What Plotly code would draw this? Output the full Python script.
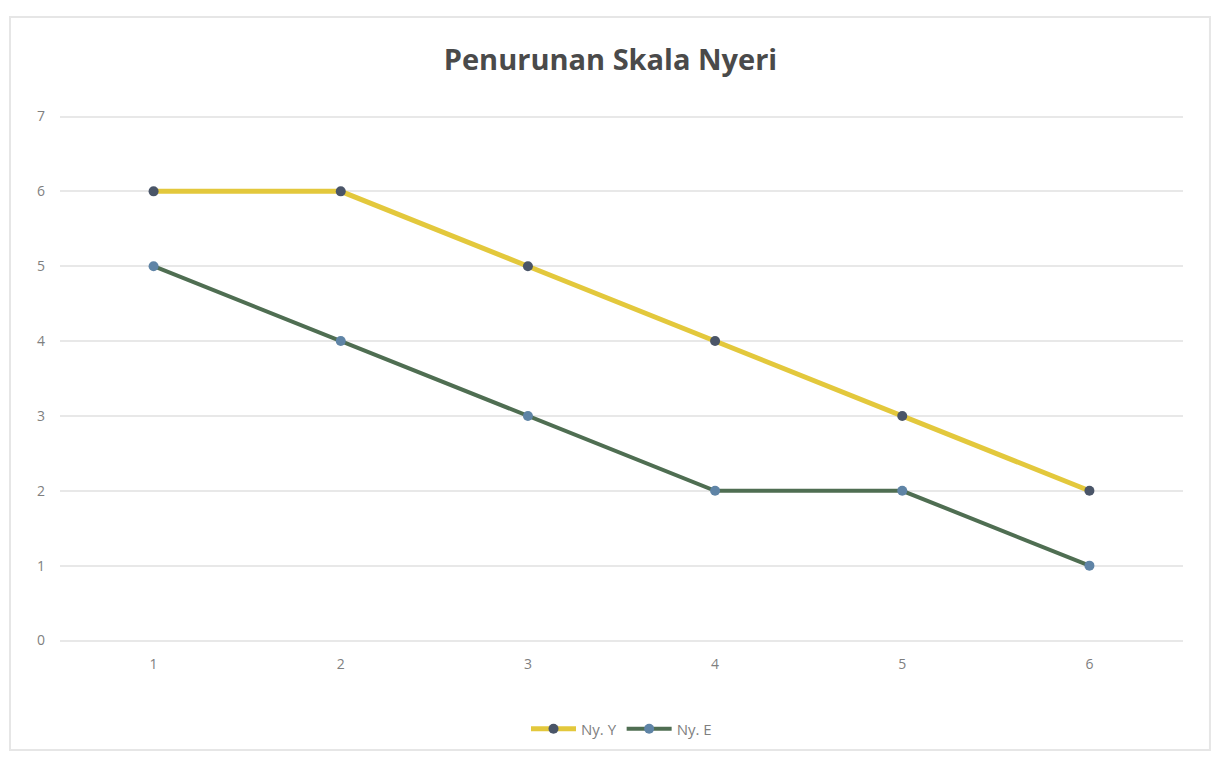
import plotly.graph_objects as go

# Pengukuran skala nyeri per hari
hari = [1, 2, 3, 4, 5, 6]
ny_y = [6, 6, 5, 4, 3, 2]
ny_e = [5, 4, 3, 2, 2, 1]
y_ticks = [0, 1, 2, 3, 4, 5, 6, 7]

fig = go.Figure()
fig.add_trace(go.Scatter(
    x=hari, y=ny_y, name="Ny. Y", mode="lines+markers",
    line=dict(color="#E3C83C", width=5),
    marker=dict(color="#4A5568", size=10, symbol="circle"),
))
fig.add_trace(go.Scatter(
    x=hari, y=ny_e, name="Ny. E", mode="lines+markers",
    line=dict(color="#4F6E52", width=4),
    marker=dict(color="#5F84A6", size=10, symbol="circle"),
))

# outer chart frame
fig.add_shape(type="rect", xref="paper", yref="paper",
              x0=-0.0445, x1=1.024, y0=-0.205, y1=1.186,
              line=dict(color="#E6E6E6", width=2), layer="below")

fig.update_layout(
    width=1221, height=758,
    margin=dict(l=60, r=38, t=115, b=114),
    paper_bgcolor="white", plot_bgcolor="white",
    title=dict(text="<b>Penurunan Skala Nyeri</b>", x=0.5, xanchor="center",
               y=0.921, yanchor="middle",
               font=dict(family="Open Sans", size=29, color="#4A4A4A")),
    font=dict(family="Open Sans", color="#7F7F7F", size=14),
    xaxis=dict(range=[0.5, 6.5], tickvals=hari, ticktext=[str(h) for h in hari],
               showgrid=False, zeroline=False, showline=False, ticks="",
               ticklabelstandoff=12),
    yaxis=dict(range=[-0.02, 7.02], tickvals=y_ticks, showgrid=True, gridcolor="#E8E8E8",
               gridwidth=2, zeroline=False, showline=False, ticks="",
               ticklabelstandoff=14),
    legend=dict(orientation="h", x=0.5, xanchor="center", y=-0.165, yanchor="middle",
                itemwidth=45, font=dict(size=15, color="#7F7F7F")),
    showlegend=True,
)

fig.write_html("out.html")
